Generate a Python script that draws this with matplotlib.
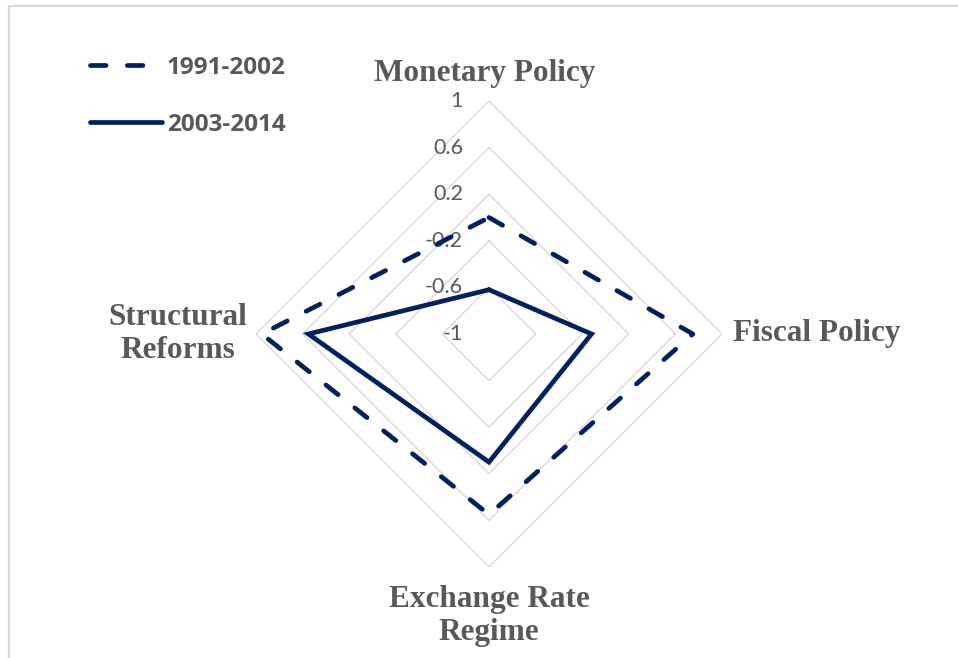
import matplotlib
matplotlib.use('Agg')
import matplotlib.pyplot as plt
import numpy as np
from matplotlib.lines import Line2D

categories = ['Monetary Policy', 'Fiscal Policy', 'Exchange Rate\nRegime', 'Structural\nReforms']
series_names = ['1991-2002', '2003-2014']
values_1991_2002 = [0.0, 0.75, 0.55, 0.95]
values_2003_2014 = [-0.62, -0.12, 0.10, 0.55]
ring_levels = [-0.6, -0.2, 0.2, 0.6, 1.0]
tick_labels = ['-1', '-0.6', '-0.2', '0.2', '0.6', '1']
tick_values = [-1.0, -0.6, -0.2, 0.2, 0.6, 1.0]

navy = '#002060'
grey_text = '#595959'
grid_col = '#d9d9d9'

fig = plt.figure(figsize=(9.58, 6.58), dpi=100)

# chart border (left + top only visible)
fig.add_artist(Line2D([9 / 958, 9 / 958], [0, 1 - 6 / 658], transform=fig.transFigure,
                      color=grid_col, lw=1.6))
fig.add_artist(Line2D([9 / 958, 1], [1 - 6 / 658, 1 - 6 / 658], transform=fig.transFigure,
                      color=grid_col, lw=1.6))

cx, cy, rad = 489, 334, 233
ax = fig.add_axes([(cx - rad) / 958, (658 - cy - rad) / 658, 2 * rad / 958, 2 * rad / 658],
                  projection='polar')
ax.set_theta_zero_location('N')
ax.set_theta_direction(-1)
ax.set_ylim(-1, 1)
ax.set_xticks([])
ax.set_yticks([])
ax.grid(False)
ax.spines['polar'].set_visible(False)
ax.patch.set_alpha(0)

angles = np.arange(len(categories)) * np.pi / 2
closed = np.append(angles, angles[0])

# diamond grid rings
for lev in ring_levels:
    ax.plot(closed, [lev] * len(closed), color=grid_col, lw=1.0, zorder=1)

# radial tick labels
for v, t in zip(tick_values, tick_labels):
    ax.annotate(t, (0, v), xytext=(-26, 0), textcoords='offset pixels',
                ha='right', va='center', fontsize=15.5, family='Lato', color=grey_text)

# series
v1 = np.append(values_1991_2002, values_1991_2002[0])
v2 = np.append(values_2003_2014, values_2003_2014[0])
ax.plot(closed, v1, color=navy, lw=3.4, linestyle=(0, (3.3, 4.5)),
        dash_capstyle='round', label=series_names[0], zorder=3)
ax.plot(closed, v2, color=navy, lw=3.4, solid_joinstyle='miter',
        solid_capstyle='round', label=series_names[1], zorder=3)

# category labels
lab_kw = dict(textcoords='offset pixels', fontsize=22.5, family='Liberation Serif',
              fontweight='bold', color=grey_text, linespacing=1.2, annotation_clip=False)
ax.annotate(categories[0], (angles[0], 1), xytext=(-4, 27), ha='center', va='center', **lab_kw)
ax.annotate(categories[1], (angles[1], 1), xytext=(11, 0), ha='left', va='center', **lab_kw)
ax.annotate(categories[2], (angles[2], 1), xytext=(0, -49), ha='center', va='center',
            multialignment='center', **lab_kw)
ax.annotate(categories[3], (angles[3], 1), xytext=(-78, 0), ha='center', va='center',
            multialignment='center', **lab_kw)

leg = fig.legend(loc='upper left', bbox_to_anchor=(90 / 958, 1 - 56 / 658), frameon=False,
                 handlelength=2.95, handletextpad=0.22, labelspacing=1.35, borderpad=0,
                 borderaxespad=0, prop={'family': 'Open Sans', 'weight': 'bold', 'size': 17.5})
for t in leg.get_texts():
    t.set_color(grey_text)

fig.savefig('out.png', dpi=100, facecolor='white')
